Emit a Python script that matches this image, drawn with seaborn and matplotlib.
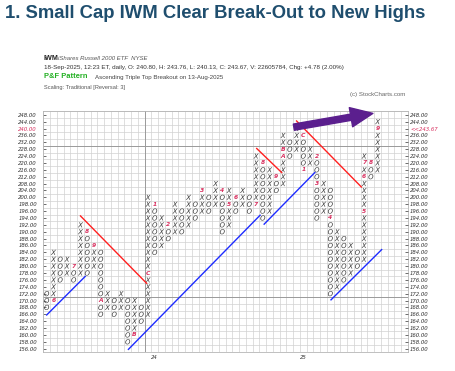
"""
Point & Figure chart of IWM (traditional scaling, 3-box reversal).
"""

import numpy as np
import pandas as pd
import matplotlib
matplotlib.use("Agg")
import matplotlib.pyplot as plt
import seaborn as sns

# price rows: 2-pt boxes up to 200, 4-pt boxes above (traditional scaling)
prices = list(range(156, 201, 2)) + list(range(204, 249, 4))

# P&F columns, left to right
col_type = ["O", "X"] * 25
col_low = [168, 170, 176, 178, 176, 178, 178, 180, 166, 168,
           166, 168, 158, 160, 164, 166, 184, 186, 188, 190,
           190, 192, 194, 196, 196, 198, 190, 192, 196, 198,
           196, 198, 194, 196, 204, 208, 224, 228, 216, 220,
           194, 196, 172, 174, 176, 178, 180, 182, 212, 216]
col_high = [172, 184, 182, 182, 180, 192, 190, 186, 184, 172,
            170, 172, 170, 170, 168, 200, 198, 194, 192, 198,
            196, 200, 198, 204, 200, 208, 204, 204, 200, 204,
            200, 224, 220, 216, 212, 236, 232, 240, 236, 228,
            224, 208, 204, 190, 188, 186, 184, 224, 220, 244]

# red month markers (1-9, A-C) that take the place of a box
month_col = [1, 4, 6, 7, 8, 13, 15, 16, 18, 23, 26, 27, 28, 31,
             32, 34, 35, 35, 38, 38, 40, 40, 42, 47, 47, 47, 48, 49]
month_price = [170, 180, 190, 186, 170, 160, 178, 198, 192, 204, 204, 198, 200, 198,
               220, 212, 224, 228, 236, 216, 224, 208, 194, 196, 212, 220, 220, 240]
month_label = ["6", "7", "8", "9", "A", "B", "C", "1", "2", "3", "4", "5", "6", "7",
               "8", "9", "A", "B", "C", "1", "2", "3", "4", "5", "6", "7", "8", "9"]

# trend lines, (column, row) end points
red_lines = [[(5.0, 19.3), (14.8, 9.5)],
             [(31.1, 29.1), (34.8, 25.6)],
             [(37.0, 33.1), (46.6, 23.5)]]
blue_lines = [[(0.0, 4.9), (5.7, 10.5)],
              [(12.1, -0.1), (31.6, 19.4)],
              [(32.2, 18.1), (39.7, 25.6)],
              [(42.1, 7.1), (49.6, 14.4)]]
arrow_tail = (36.6, 32.2)
arrow_head = (48.3, 34.2)

year_cols = [16, 38]
year_labels = ["24", "25"]
last_price = "<<243.67"

row_of = {p: i for i, p in enumerate(prices)}
marks = {(c, p) for c, p in zip(month_col, month_price)}

# build cell table
rows = []
for c, (t, lo, hi) in enumerate(zip(col_type, col_low, col_high)):
    for p in prices:
        if lo <= p <= hi and (c, p) not in marks:
            rows.append({"col": c, "row": row_of[p], "box": t})
cells = pd.DataFrame(rows)

plt.rcParams["font.family"] = ["Liberation Sans", "DejaVu Sans"]

fig = plt.figure(figsize=(4.55, 3.71), dpi=100)
ax = fig.add_axes([0.0952, 0.0509, 0.8015, 0.649])

# grid
ax.set_xlim(-0.5, 53.5)
ax.set_ylim(-0.5, len(prices) - 0.5)
ax.set_xticks(np.arange(-0.5, 54, 1), minor=True)
ax.set_yticks(np.arange(-0.5, len(prices), 1), minor=True)
ax.grid(which="minor", color="#d2d2d2", lw=0.5)
ax.axhline(7.5, color="#9a9a9a", lw=0.7)
ax.axhline(29.5, color="#9a9a9a", lw=0.7)
ax.axvline(14.5, color="#9a9a9a", lw=0.7)
ax.tick_params(which="minor", length=0)
for s in ax.spines.values():
    s.set_color("#b5b5b5")
    s.set_linewidth(0.6)

sns.scatterplot(data=cells, x="col", y="row", style="box",
                markers={"X": "$X$", "O": "$O$"}, color="#3a3a3a",
                s=14, linewidth=0, legend=False, ax=ax, zorder=3)

for c, p, lab in zip(month_col, month_price, month_label):
    ax.text(c, row_of[p], lab, color="#d8305f", fontsize=4.3, style="italic",
            fontweight="bold", ha="center", va="center", family="DejaVu Sans", zorder=3)

for seg in red_lines:
    (x0, y0), (x1, y1) = seg
    ax.plot([x0, x1], [y0, y1], color="#ff2020", lw=1.0, zorder=4)
for seg in blue_lines:
    (x0, y0), (x1, y1) = seg
    ax.plot([x0, x1], [y0, y1], color="#1e2cff", lw=1.0, zorder=4)

ax.annotate("", xy=arrow_head, xytext=arrow_tail,
            arrowprops=dict(arrowstyle="simple,head_length=1.6,head_width=1.4,tail_width=0.45",
                            color="#5b1f8e", shrinkA=0, shrinkB=0, mutation_scale=10),
            zorder=5)

# axis labels
tick_font = dict(family="DejaVu Sans", style="italic", size=3.9)
ax.set_yticks(range(len(prices)))
ax.set_yticklabels([f"{p:.2f}" for p in prices], color="#333333", **tick_font)
ax.get_yticklabels()[row_of[240]].set_color("#d8305f")
ax.tick_params(axis="y", which="major", direction="in", length=2, width=0.6,
               color="#555555", pad=4.5)

axr = ax.twinx()
axr.set_ylim(ax.get_ylim())
axr.set_yticks(range(len(prices)))
right_labels = [f"{p:.2f}" for p in prices]
right_labels[row_of[240]] = last_price
axr.set_yticklabels(right_labels, color="#333333", **tick_font)
axr.get_yticklabels()[row_of[240]].set_color("#d8305f")
axr.tick_params(axis="y", direction="in", length=2, width=0.6, color="#555555", pad=1.5)
for s in axr.spines.values():
    s.set_visible(False)

ax.set_xticks(year_cols)
ax.set_xticklabels(year_labels, color="#333333", **tick_font)
ax.tick_params(axis="x", which="major", length=0, pad=2)
ax.set_xlabel("")
ax.set_ylabel("")

# header texts
fig.text(5 / 455, 1 - 18.5 / 371, "1. Small Cap IWM Clear Break-Out to New Highs",
         fontsize=13.3, fontweight="bold", color="#1f4e6e", va="baseline")
fig.text(44 / 455, 1 - 59.5 / 371, "IWM", fontsize=5.2, fontweight="bold",
         color="#222222", va="baseline")
fig.text(58 / 455, 1 - 59.5 / 371, "iShares Russell 2000 ETF  NYSE", fontsize=4.3,
         style="italic", color="#555555", va="baseline")
fig.text(44 / 455, 1 - 69.5 / 371,
         "18-Sep-2025, 12:23 ET, daily, O: 240.80, H: 243.76, L: 240.13, C: 243.67, "
         "V: 22605784, Chg: +4.78 (2.00%)", fontsize=4.5, color="#333333", va="baseline")
fig.text(44 / 455, 1 - 78.5 / 371, "P&F Pattern", fontsize=5.4, fontweight="bold",
         color="#22b022", va="baseline")
fig.text(95 / 455, 1 - 78.5 / 371, "Ascending Triple Top Breakout on 13-Aug-2025",
         fontsize=4.4, color="#444444", va="baseline")
fig.text(44 / 455, 1 - 89 / 371, "Scaling: Traditional [Reversal: 3]", fontsize=4.1,
         color="#555555", va="baseline")
fig.text(350 / 455, 1 - 96 / 371, "(c) StockCharts.com", fontsize=4.4,
         color="#666666", va="baseline")

fig.savefig("out.png", dpi=100)
plt.close(fig)
